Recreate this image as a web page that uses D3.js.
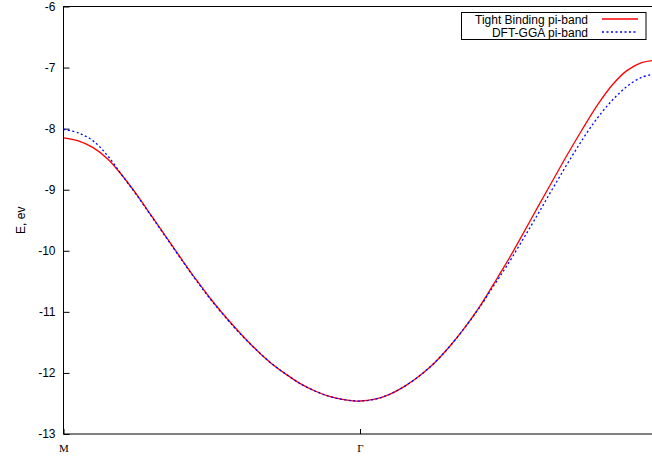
<!DOCTYPE html>
<html>
<head>
<meta charset="utf-8">
<script src="https://cdn.jsdelivr.net/npm/d3@7"></script>
<style>
body { margin: 0; background: #fff; }
svg { display: block; }
.tick text { font-family: "Liberation Sans", Arial, sans-serif; font-size: 12px; fill: #000; }
.xAxis .tick text { font-family: "Liberation Serif", "Times New Roman", serif; font-size: 11px; }
.legendText { font-family: "Liberation Sans", Arial, sans-serif; font-size: 12px; }
</style>
</head>
<body>
<div id="chart"></div>
<script>

// k-path position: 0 = M, 1 = Gamma, 2 = right end
var kPos = [0, 0.05, 0.1, 0.15, 0.2, 0.25, 0.3, 0.35, 0.4, 0.45, 0.5, 0.55, 0.6, 0.65, 0.7, 0.75, 0.8, 0.85, 0.9, 0.95,
	1, 1.05, 1.1, 1.15, 1.2, 1.25, 1.3, 1.35, 1.4, 1.45, 1.5, 1.55, 1.6, 1.65, 1.7, 1.75, 1.8, 1.85, 1.9, 1.95, 2];

// Tight binding pi-band (eV)
var tbBand = [-8.15, -8.20, -8.31, -8.50, -8.78, -9.10, -9.45, -9.80, -10.15, -10.49, -10.81, -11.10, -11.37, -11.62, -11.84, -12.02, -12.18, -12.30, -12.39, -12.44,
	-12.46, -12.43, -12.35, -12.22, -12.05, -11.84, -11.58, -11.28, -10.94, -10.55, -10.15, -9.72, -9.28, -8.85, -8.42, -8.01, -7.62, -7.29, -7.05, -6.92, -6.88];

// DFT-GGA pi-band (eV)
var ggaBand = [-8.01, -8.07, -8.20, -8.45, -8.78, -9.11, -9.46, -9.81, -10.16, -10.50, -10.82, -11.11, -11.38, -11.62, -11.84, -12.02, -12.18, -12.30, -12.39, -12.44,
	-12.46, -12.43, -12.35, -12.22, -12.05, -11.84, -11.58, -11.28, -10.95, -10.58, -10.21, -9.81, -9.40, -8.98, -8.57, -8.18, -7.83, -7.54, -7.31, -7.16, -7.10];

var yTicks = [-13, -12, -11, -10, -9, -8, -7, -6];
var kTicks = [0, 1, 2];
var kLabels = ["M", "\u0393", "K"];
var seriesNames = ["Tight Binding pi-band", "DFT-GGA pi-band"];
var seriesColors = ["#ff0000", "#0000ff"];
var seriesDash = [null, "2,2.5"];

var w = 652;
var h = 457;
var plotLeft = 63.5, plotTop = 6.5, plotBottom = 434, plotRight = 656.5;

//Create scale functions
var xScale = d3.scaleLinear()
			.domain([0, 2])
			.range([plotLeft, plotRight]);

var yScale = d3.scaleLinear()
			.domain([-13, -6])
			.range([plotBottom, plotTop]);

//Create SVG element
var svg = d3.select("#chart")
			.append("svg")
			.attr("width", w)
			.attr("height", h);

//Y axis with inward ticks (plain hyphen minus like gnuplot)
var yAxis = d3.axisLeft()
			.scale(yScale)
			.tickValues(yTicks)
			.tickSize(-6)
			.tickPadding(8)
			.tickFormat(function(d){ return String(d); });

svg.append("g")
	.attr("class", "yAxis")
	.attr("transform", "translate(" + plotLeft + ",0)")
	.call(yAxis);

//X axis with symmetry point labels
var xAxis = d3.axisBottom()
			.scale(xScale)
			.tickValues(kTicks)
			.tickSize(-5)
			.tickPadding(10)
			.tickFormat(function(d, i){ return kLabels[i]; });

svg.append("g")
	.attr("class", "xAxis")
	.attr("transform", "translate(0," + plotBottom + ")")
	.call(xAxis);

svg.selectAll(".domain").remove();
svg.selectAll(".tick line").attr("stroke", "#000");

//Border
svg.append("rect")
	.attr("x", plotLeft)
	.attr("y", plotTop)
	.attr("width", plotRight - plotLeft)
	.attr("height", plotBottom - plotTop)
	.attr("fill", "none")
	.attr("stroke", "#000")
	.attr("stroke-width", 1);

// Y axis label
svg.append("text")
	.attr("transform", "translate(25," + ((plotTop + plotBottom) / 2) + ") rotate(-90)")
	.attr("text-anchor", "middle")
	.attr("font-family", "Liberation Sans, Arial, sans-serif")
	.attr("font-size", "12px")
	.text("E, ev");

var line = d3.line()
		.x(function(d){ return xScale(d[0]); })
		.y(function(d){ return yScale(d[1]); })
		.curve(d3.curveCatmullRom);

svg.append("clipPath").attr("id", "plotClip")
	.append("rect")
	.attr("x", plotLeft).attr("y", plotTop)
	.attr("width", plotRight - plotLeft).attr("height", plotBottom - plotTop);

var plot = svg.append("g").attr("clip-path", "url(#plotClip)");

var bands = [tbBand, ggaBand];

plot.selectAll(".band")
	.data(bands)
	.enter()
	.append("path")
		.attr("class", "band")
		.attr("d", function(d){ return line(d3.zip(kPos, d)); })
		.attr("fill", "none")
		.attr("stroke", function(d, i){ return seriesColors[i]; })
		.attr("stroke-width", 1.3)
		.attr("stroke-dasharray", function(d, i){ return seriesDash[i]; });

//Legend
var legend = svg.append("g");

legend.append("rect")
	.attr("x", 461.5)
	.attr("y", 12.5)
	.attr("width", 184.5)
	.attr("height", 27)
	.attr("fill", "#fff")
	.attr("stroke", "#000")
	.attr("stroke-width", 1);

legend.selectAll(".legendText")
	.data(seriesNames)
	.enter()
	.append("text")
		.attr("class", "legendText")
		.attr("x", 588)
		.attr("y", function(d, i){ return 23.5 + i * 13; })
		.attr("text-anchor", "end")
		.text(function(d){ return d; });

// sample lines
legend.selectAll(".legendLine")
	.data(seriesNames)
	.enter()
	.append("path")
		.attr("class", "legendLine")
		.attr("d", function(d, i){ return "M602," + (19 + i * 13) + "H638"; })
		.attr("fill", "none")
		.attr("stroke", function(d, i){ return seriesColors[i]; })
		.attr("stroke-width", 1.6)
		.attr("stroke-dasharray", function(d, i){ return seriesDash[i]; });

</script>
</body>
</html>
